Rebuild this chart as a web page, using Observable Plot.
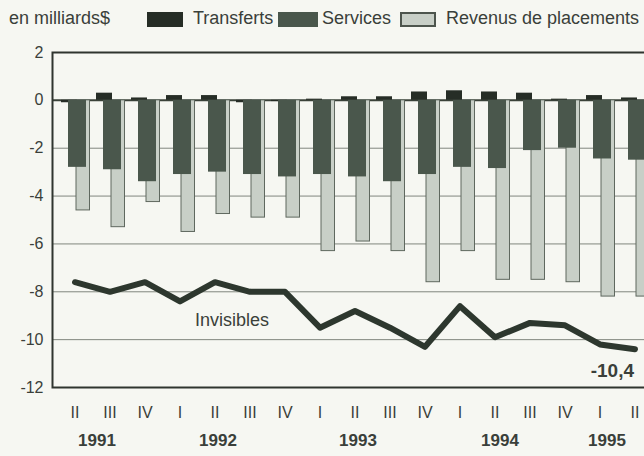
<!DOCTYPE html>
<html>
<head>
<meta charset="utf-8">
<script src="https://cdn.jsdelivr.net/npm/d3@7"></script>
<script src="https://cdn.jsdelivr.net/npm/@observablehq/plot@0.6"></script>
<style>
  html, body { margin: 0; padding: 0; background: #f6f7f2; }
  #wrap { width: 644px; height: 456px; overflow: hidden; position: relative;
          font-family: "Liberation Sans", Arial, sans-serif; color: #3a3f3a; }
  #legend { position: relative; height: 34px; width: 644px; font-size: 18px; }
  #legend .t { position: absolute; top: 9px; line-height: 18px; white-space: nowrap; }
  #legend .sw { position: absolute; top: 12px; height: 15px; box-sizing: border-box; }
</style>
</head>
<body>
<div id="wrap">
  <div id="legend"></div>
  <div id="chart"></div>
</div>
<script>
// ---- data ----
const quarterLabels = ["II","III","IV","I","II","III","IV","I","II","III","IV","I","II","III","IV","I","II"];
const quarterYears  = [1991,1991,1991,1992,1992,1992,1992,1993,1993,1993,1993,1994,1994,1994,1994,1995,1995];
const transferts  = [-0.1, 0.3, 0.1, 0.2, 0.2, -0.1, -0.05, 0.05, 0.15, 0.15, 0.35, 0.4, 0.35, 0.3, 0.05, 0.2, 0.1];
const services    = [-2.8, -2.9, -3.4, -3.1, -3.0, -3.1, -3.2, -3.1, -3.2, -3.4, -3.1, -2.8, -2.85, -2.1, -2.0, -2.45, -2.5];
const revenus     = [-4.6, -5.3, -4.25, -5.5, -4.75, -4.9, -4.9, -6.3, -5.9, -6.3, -7.6, -6.3, -7.5, -7.5, -7.6, -8.2, -8.2];
const invisibles  = [-7.6, -8.0, -7.6, -8.4, -7.6, -8.0, -8.0, -9.5, -8.8, -9.5, -10.3, -8.6, -9.9, -9.3, -9.4, -10.2, -10.4];
const yTicks = [2, 0, -2, -4, -6, -8, -10, -12];
const gridValues = [-2, -4, -6, -8, -10];
const seriesNames = ["Transferts", "Services", "Revenus de placements"];
const unitLabel = "en milliards$";
const yearLabels = ["1991", "1992", "1993", "1994", "1995"];
const yearAnchors = ["1991 II", "1992 II", "1993 II", "1994 II", "1995 I"];
const lineLabel = [{text: "Invisibles", at: "1992 II", value: -9.2}];
const endLabel = [{text: "-10,4", at: "1995 II", value: -11.3}];

// ---- styles ----
const colTransferts = "#262d26";
const colServices = "#4a574c";
const colRevenus = "#c8cfc7";
const colLine = "#2d372e";
const yearDx = [22, 3, 3, 5, 7];

// ---- legend ----
const legend = document.getElementById("legend");
const legendLayout = [
  {kind: "t", text: unitLabel, left: 9},
  {kind: "sw", color: colTransferts, left: 147, w: 36},
  {kind: "t", text: seriesNames[0], left: 193},
  {kind: "sw", color: colServices, left: 278, w: 40},
  {kind: "t", text: seriesNames[1], left: 322},
  {kind: "sw", color: colRevenus, left: 400, w: 36, border: "#4d554d"},
  {kind: "t", text: seriesNames[2], left: 446}
];
for (const it of legendLayout) {
  const el = document.createElement("div");
  el.className = it.kind;
  el.style.left = it.left + "px";
  if (it.kind === "t") el.textContent = it.text;
  else {
    el.style.width = it.w + "px";
    el.style.background = it.color;
    if (it.border) el.style.border = "2px solid " + it.border;
  }
  legend.appendChild(el);
}

// ---- chart ----
const keys = quarterLabels.map((q, i) => quarterYears[i] + " " + q);
const labelOf = new Map(keys.map((k, i) => [k, quarterLabels[i]]));
const rows = keys.map((k, i) => ({
  key: k, transferts: transferts[i], services: services[i],
  revenus: revenus[i], invisibles: invisibles[i]
}));

const plot = Plot.plot({
  width: 660,
  height: 422,
  marginLeft: 52,
  marginRight: 3,
  marginTop: 18,
  marginBottom: 69,
  style: {
    background: "#f6f7f2",
    fontFamily: "'Liberation Sans', Arial, sans-serif",
    fontSize: "16px",
    color: "#3a3f3a",
    maxWidth: "none",
    overflow: "visible"
  },
  x: {type: "band", domain: keys, padding: 0, label: null, tickSize: 0, tickPadding: 19,
      tickFormat: k => labelOf.get(k)},
  y: {domain: [-12, 2], label: null, ticks: yTicks, tickSize: 0, tickPadding: 9,
      tickFormat: d => String(d)},
  marks: [
    Plot.ruleY(gridValues, {stroke: "#80867e", strokeWidth: 1}),
    Plot.ruleY([0], {stroke: "#3a4239", strokeWidth: 2}),
    Plot.barY(rows, {x: "key", y: "revenus", fill: colRevenus, stroke: "#5f685f", strokeWidth: 1,
                     insetLeft: 19, insetRight: 2.5}),
    Plot.barY(rows, {x: "key", y: "transferts", fill: colTransferts, insetLeft: 4, insetRight: 15}),
    Plot.barY(rows, {x: "key", y: "services", fill: colServices, insetLeft: 11, insetRight: 6}),
    Plot.line(rows, {x: "key", y: "invisibles", stroke: colLine, strokeWidth: 6,
                     strokeLinejoin: "round", strokeLinecap: "round"}),
    Plot.text(lineLabel, {x: "at", y: "value", text: "text", dx: 17, fontSize: 18, fill: "#3a3f3a"}),
    Plot.text(endLabel, {x: "at", y: "value", text: "text", dx: -1, textAnchor: "end",
                         fontSize: 19, fontWeight: "bold", fill: "#3a3f3a"}),
    ...yearLabels.map((y, i) => Plot.text([{text: y, at: yearAnchors[i]}], {
      x: "at", y: () => -12, text: "text", dy: 53, dx: yearDx[i],
      fontSize: 17, fontWeight: "bold", fill: "#3a3f3a"
    })),
    Plot.frame({stroke: "#2f352f", strokeWidth: 2})
  ]
});
document.getElementById("chart").appendChild(plot);
</script>
</body>
</html>
